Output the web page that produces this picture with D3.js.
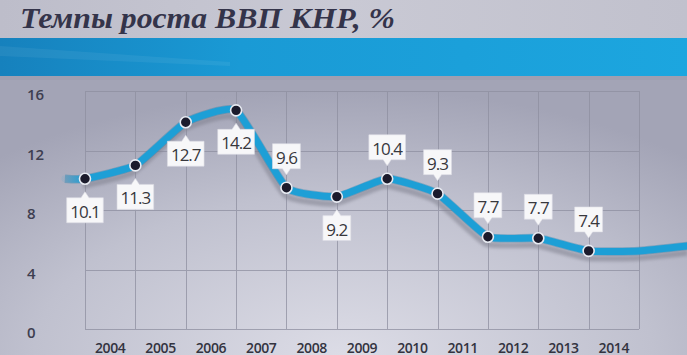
<!DOCTYPE html>
<html>
<head>
<meta charset="utf-8">
<script src="https://cdn.jsdelivr.net/npm/d3@7"></script>
<style>
  html, body { margin: 0; padding: 0; overflow: hidden; background: #b4b5c4; }
  svg { display: block; }
</style>
</head>
<body>
<svg id="chart" width="687" height="355"></svg>
<script>
// Data
const title = 'Темпы роста ВВП КНР, %';
const years = [2004, 2005, 2006, 2007, 2008, 2009, 2010, 2011, 2012, 2013, 2014];
// where the markers sit on the slide (the slide's curve does not follow its own labels)
const plotted = [10.1, 11.0, 13.9, 14.7, 9.5, 8.9, 10.1, 9.1, 6.2, 6.1, 5.25];
const labels = ['10.1', '11.3', '12.7', '14.2', '9.6', '9.2', '10.4', '9.3', '7.7', '7.7', '7.4'];
const labelSide = ['below', 'below', 'below', 'below', 'above', 'below', 'above', 'above', 'above', 'above', 'above'];
// curve runs a bit before the first marker and on past the last one
const leadYears = [2003.6];
const leadValues = [10.1];
const tailYears = [2015, 2016];
const tailValues = [5.25, 5.6];
const yTicks = [0, 4, 8, 12, 16];

const svg = d3.select('#chart');
const width = 687, height = 355;
const margin = { left: 85, right: 48, top: 91, bottom: 26 };

const x = d3.scaleLinear().domain([2004, 2015]).range([margin.left, width - margin.right]);
const y = d3.scaleLinear().domain([0, 16]).range([height - margin.bottom, margin.top]);

const defs = svg.append('defs');

// Background gradients
const bgGrad = defs.append('radialGradient').attr('id', 'bg')
    .attr('cx', '0.5').attr('cy', '1').attr('r', '0.75');
bgGrad.append('stop').attr('offset', '0').attr('stop-color', '#dcdce6');
bgGrad.append('stop').attr('offset', '0.6').attr('stop-color', '#c0c1cf');
bgGrad.append('stop').attr('offset', '1').attr('stop-color', '#a3a4b6');

const headGrad = defs.append('linearGradient').attr('id', 'head');
headGrad.append('stop').attr('offset', '0').attr('stop-color', '#bdbdca');
headGrad.append('stop').attr('offset', '0.5').attr('stop-color', '#c9c9d4');
headGrad.append('stop').attr('offset', '1').attr('stop-color', '#c1c1cd');

const bandGrad = defs.append('linearGradient').attr('id', 'band');
bandGrad.append('stop').attr('offset', '0').attr('stop-color', '#1681bd');
bandGrad.append('stop').attr('offset', '0.35').attr('stop-color', '#1a9ad5');
bandGrad.append('stop').attr('offset', '1').attr('stop-color', '#1ca6df');

const lineGrad = defs.append('linearGradient').attr('id', 'lineFade')
    .attr('gradientUnits', 'userSpaceOnUse')
    .attr('x1', x(leadYears[0])).attr('x2', x(years[0]))
    .attr('y1', 0).attr('y2', 0);
lineGrad.append('stop').attr('offset', '0').attr('stop-color', '#1d9fd6').attr('stop-opacity', 0.1);
lineGrad.append('stop').attr('offset', '1').attr('stop-color', '#1d9fd6').attr('stop-opacity', 1);

defs.append('filter').attr('id', 'blur')
    .attr('x', '-10%').attr('y', '-30%').attr('width', '120%').attr('height', '160%')
    .append('feGaussianBlur').attr('stdDeviation', 1.6);

svg.append('rect').attr('width', width).attr('height', height).attr('fill', 'url(#bg)');
svg.append('rect').attr('width', width).attr('height', 38).attr('fill', 'url(#head)');
svg.append('rect').attr('y', 38).attr('width', width).attr('height', 38).attr('fill', 'url(#band)');
svg.append('path')
    .attr('d', 'M0,46 L230,62 L230,66 L0,56 Z')
    .attr('fill', '#ffffff').attr('opacity', 0.06);
svg.append('rect').attr('y', 76).attr('width', width).attr('height', 4)
    .attr('fill', '#9c9cae').attr('opacity', 0.6);

// Title
svg.append('text')
    .attr('x', 20).attr('y', 28)
    .attr('textLength', 375).attr('lengthAdjust', 'spacingAndGlyphs')
    .style('font-family', '"Liberation Serif", "DejaVu Serif", serif')
    .style('font-style', 'italic').style('font-weight', 'bold')
    .style('font-size', '29px').attr('fill', '#34344a')
    .text(title);

// Grid
const grid = svg.append('g').attr('stroke', '#8e8fa0').attr('stroke-width', 1).attr('opacity', 0.75);
grid.selectAll('line.h').data(yTicks).join('line')
    .attr('class', 'h')
    .attr('x1', x(2004)).attr('x2', x(2015))
    .attr('y1', d => Math.round(y(d)) + 0.5).attr('y2', d => Math.round(y(d)) + 0.5);
grid.selectAll('line.v').data(d3.range(2004, 2016)).join('line')
    .attr('class', 'v')
    .attr('x1', d => Math.round(x(d)) + 0.5).attr('x2', d => Math.round(x(d)) + 0.5)
    .attr('y1', y(16)).attr('y2', y(0));

// Axis labels
svg.append('g').selectAll('text').data(yTicks).join('text')
    .attr('x', 27).attr('y', d => y(d) + 3)
    .attr('dominant-baseline', 'central')
    .style('font-family', '"Open Sans", sans-serif').style('font-weight', 600)
    .style('font-size', '15px').attr('fill', '#3e3e50')
    .text(d => d);

svg.append('g').selectAll('text').data(years).join('text')
    .attr('x', d => x(d + 0.5)).attr('y', 347)
    .attr('text-anchor', 'middle').attr('dominant-baseline', 'central')
    .style('font-family', '"Open Sans", sans-serif').style('font-weight', 600)
    .style('font-size', '14px').attr('letter-spacing', '-0.4px').attr('fill', '#33333f')
    .text(d => d);

// Line
const points = years.map((yr, i) => [yr, plotted[i]]);
const curvePts = leadYears.map((yr, i) => [yr, leadValues[i]])
    .concat(points)
    .concat(tailYears.map((yr, i) => [yr, tailValues[i]]));

const line = d3.line()
    .x(d => x(d[0]))
    .y(d => y(d[1]))
    .curve(d3.curveCardinal.tension(0.55));

svg.append('path')
    .datum(curvePts.slice(1))
    .attr('d', line)
    .attr('transform', 'translate(-2,7)')
    .attr('fill', 'none').attr('stroke', '#80818f').attr('stroke-width', 6)
    .attr('opacity', 0.55).attr('filter', 'url(#blur)');

svg.append('path')
    .datum(curvePts)
    .attr('d', line)
    .attr('fill', 'none').attr('stroke', '#1679a8').attr('stroke-width', 8.5)
    .attr('stroke-linejoin', 'round').attr('opacity', 0.35);

svg.append('path')
    .datum(curvePts)
    .attr('d', line)
    .attr('fill', 'none').attr('stroke', 'url(#lineFade)').attr('stroke-width', 7)
    .attr('stroke-linejoin', 'round').attr('stroke-linecap', 'round');

// Markers
svg.append('g').selectAll('circle').data(points).join('circle')
    .attr('cx', d => x(d[0])).attr('cy', d => y(d[1]))
    .attr('r', 5.5)
    .attr('fill', '#1b1b2c').attr('stroke', '#e8ebf2').attr('stroke-width', 1.6);

// Callout labels
const gap = 19, boxH = 25, tip = 6;
const callouts = svg.append('g').selectAll('g').data(points).join('g')
    .attr('transform', d => `translate(${x(d[0])},${y(d[1])})`);

callouts.each(function (d, i) {
    const g = d3.select(this);
    const dir = labelSide[i] === 'above' ? -1 : 1;
    const txt = g.append('text')
        .attr('text-anchor', 'middle').attr('dominant-baseline', 'central')
        .attr('y', dir * (gap + boxH / 2) + 1)
        .style('font-family', '"Open Sans", sans-serif').style('font-weight', 500)
        .style('font-size', '17px').attr('letter-spacing', '-1px').attr('fill', '#38383d')
        .text(labels[i]);
    const w = txt.node().getComputedTextLength() + 7;
    const edge = dir * gap;            // box edge nearest to the point
    const far = dir * (gap + boxH);
    g.insert('path', 'text')
        .attr('d', `M${-w / 2},${edge} L-4,${edge} L0,${edge - dir * tip} L4,${edge} L${w / 2},${edge} L${w / 2},${far} L${-w / 2},${far} Z`)
        .attr('fill', '#f7f7f9').attr('stroke', '#dcdce4').attr('stroke-width', 0.6);
});
</script>
</body>
</html>
